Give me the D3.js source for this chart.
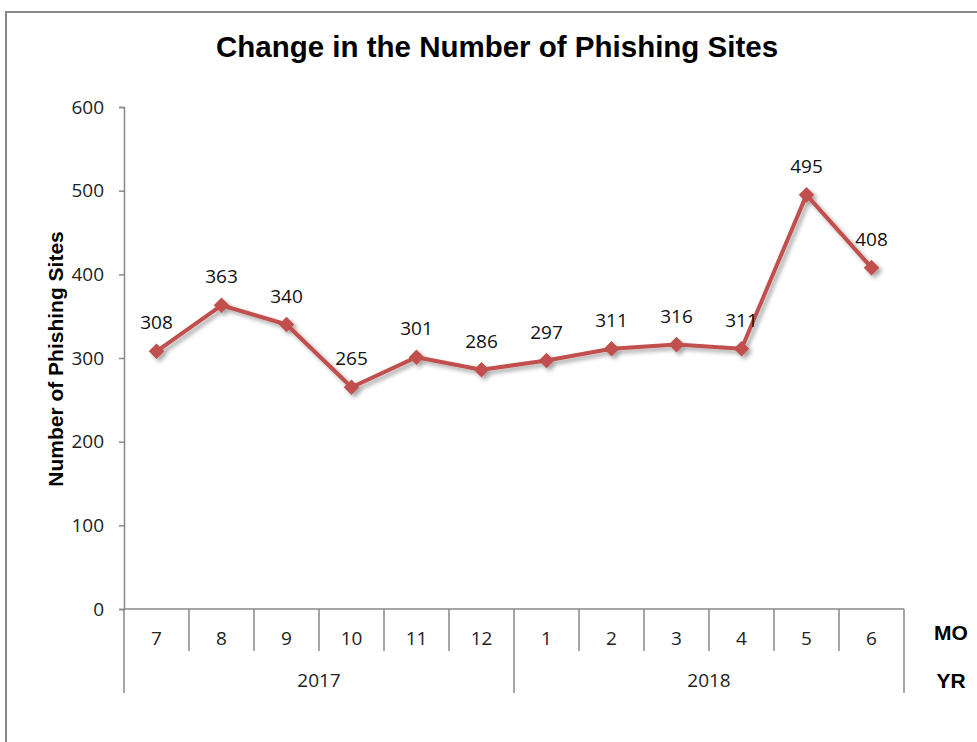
<!DOCTYPE html>
<html>
<head>
<meta charset="utf-8">
<script src="https://cdn.jsdelivr.net/npm/d3@7/dist/d3.min.js"></script>
<style>
  body { margin: 0; background: #fff; }
  .bold { font-family: 'Liberation Sans', Arial, sans-serif; font-weight: bold; fill: #000; }
  .num { font-family: 'Open Sans', sans-serif; fill: #222; }
</style>
</head>
<body>
<div class="chart"></div>
<script>
const months = ['7', '8', '9', '10', '11', '12', '1', '2', '3', '4', '5', '6']
const years = ['2017', '2017', '2017', '2017', '2017', '2017', '2018', '2018', '2018', '2018', '2018', '2018']
const sites = [308, 363, 340, 265, 301, 286, 297, 311, 316, 311, 495, 408]
const yTicks = [0, 100, 200, 300, 400, 500, 600]

const width = 977
const height = 742

const svg = d3.select('.chart')
.append('svg')
.attr('width', width)
.attr('height', height)

// drop shadow like the excel marker line
const defs = svg.append('defs')
const shadow = defs.append('filter')
.attr('id', 'shadow')
.attr('x', '-20%').attr('y', '-20%')
.attr('width', '140%').attr('height', '140%')
shadow.append('feDropShadow')
.attr('dx', 3).attr('dy', 3)
.attr('stdDeviation', 2)
.attr('flood-color', '#000')
.attr('flood-opacity', 0.35)

// outer frame
svg.append('path')
.attr('d', `M6,${height} L6,12 L${width},12`)
.attr('fill', 'none')
.attr('stroke', '#888')
.attr('stroke-width', 2)

svg.append('text')
.attr('class', 'bold')
.attr('x', 497)
.attr('y', 57)
.attr('text-anchor', 'middle')
.style('font-size', '29.5px')
.text('Change in the Number of Phishing Sites')

const x = d3.scaleBand()
.domain(d3.range(months.length))
.range([124, 904])

const y = d3.scaleLinear()
.domain([0, 600])
.range([609, 107])

// y axis
const yAxis = svg.append('g')
.attr('transform', 'translate(124,0)')
.call(d3.axisLeft(y).tickValues(yTicks).tickSize(5).tickPadding(15))

yAxis.select('.domain').attr('stroke', '#888').attr('stroke-width', 1.5)
yAxis.selectAll('.tick line').attr('stroke', '#888').attr('stroke-width', 1.5)
yAxis.selectAll('.tick text')
.attr('class', 'num')
.style('font-size', '19px')

svg.append('text')
.attr('class', 'bold')
.attr('transform', `translate(63,${y(300) + 1}) rotate(-90)`)
.attr('text-anchor', 'middle')
.style('font-size', '21px')
.text('Number of Phishing Sites')

// x axis, two level categories
const xg = svg.append('g').attr('stroke', '#888').attr('stroke-width', 1.5)

xg.append('line')
.attr('x1', 124).attr('x2', 904)
.attr('y1', y(0)).attr('y2', y(0))

months.forEach((m, i) => {
	let bx = x(i)
	let yearEdge = i === 0 || years[i] !== years[i - 1]
	xg.append('line')
	.attr('x1', bx).attr('x2', bx)
	.attr('y1', y(0)).attr('y2', yearEdge ? 693 : 651)
})
xg.append('line')
.attr('x1', 904).attr('x2', 904)
.attr('y1', y(0)).attr('y2', 693)

svg.append('g')
.selectAll('text')
.data(months)
.enter()
.append('text')
.attr('class', 'num')
.attr('x', (d, i) => x(i) + x.bandwidth() / 2)
.attr('y', 645)
.attr('text-anchor', 'middle')
.style('font-size', '19px')
.text(d => d)

const yearGroups = d3.groups(years.map((yr, i) => ({ yr, i })), d => d.yr)

svg.append('g')
.selectAll('text')
.data(yearGroups)
.enter()
.append('text')
.attr('class', 'num')
.attr('x', d => (x(d[1][0].i) + x(d[1][d[1].length - 1].i) + x.bandwidth()) / 2)
.attr('y', 687)
.attr('text-anchor', 'middle')
.style('font-size', '19px')
.text(d => d[0])

svg.append('text')
.attr('class', 'bold')
.attr('x', 951).attr('y', 640)
.attr('text-anchor', 'middle')
.style('font-size', '21px')
.text('MO')

svg.append('text')
.attr('class', 'bold')
.attr('x', 951).attr('y', 688)
.attr('text-anchor', 'middle')
.style('font-size', '21px')
.text('YR')

// series
const cx = i => x(i) + x.bandwidth() / 2

const line = d3.line()
.x((d, i) => cx(i))
.y(d => y(d))

const series = svg.append('g').attr('filter', 'url(#shadow)')

series.append('path')
.datum(sites)
.attr('d', line)
.attr('fill', 'none')
.attr('stroke', '#C0504D')
.attr('stroke-width', 4)
.attr('stroke-linejoin', 'round')

series.selectAll('rect')
.data(sites)
.enter()
.append('rect')
.attr('x', -5.5)
.attr('y', -5.5)
.attr('width', 11)
.attr('height', 11)
.attr('fill', '#C0504D')
.attr('transform', (d, i) => `translate(${cx(i)},${y(d)}) rotate(45)`)

svg.append('g')
.selectAll('text')
.data(sites)
.enter()
.append('text')
.attr('class', 'num')
.attr('x', (d, i) => cx(i))
.attr('y', d => y(d) - 22)
.attr('text-anchor', 'middle')
.style('font-size', '19px')
.style('fill', '#111')
.text(d => d)
</script>
</body>
</html>
